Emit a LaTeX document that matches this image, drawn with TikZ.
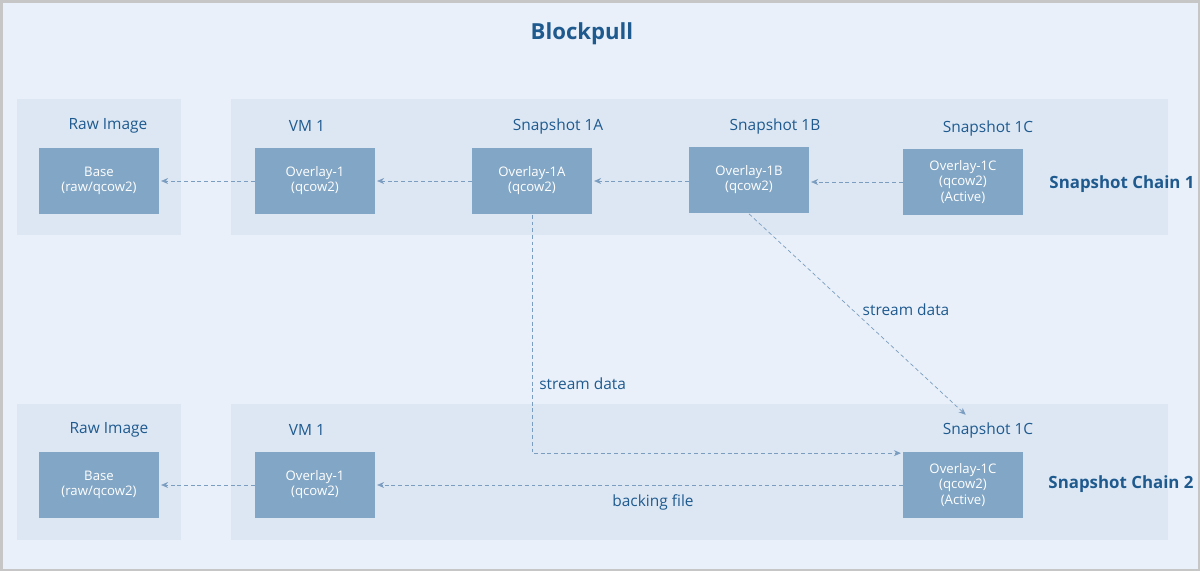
\documentclass[tikz,border=0pt]{standalone}
\usepackage{fontspec}
\setmainfont{Open Sans}
\usetikzlibrary{arrows.meta,calc}

\definecolor{pagebg}{HTML}{E9F0F9}
\definecolor{panelbg}{HTML}{DCE7F3}
\definecolor{boxfill}{HTML}{82A6C5}
\definecolor{titleblue}{HTML}{1F5A8F}
\definecolor{linkblue}{HTML}{7A9DC0}

\tikzset{
  imgbox/.style={fill=boxfill,text=white,minimum width=2.4cm,minimum height=1.34cm,
    align=center,inner sep=0pt,font=\fontsize{7.5}{8.6}\selectfont},
  caption/.style={text=titleblue,font=\fontsize{8.8}{10}\selectfont,inner sep=0pt},
  chainlbl/.style={text=titleblue,font=\bfseries\fontsize{9.6}{11}\selectfont,inner sep=0pt},
  link/.style={linkblue,dash pattern=on 2.2pt off 1.6pt,
    -{Stealth[length=4pt,width=3.4pt]},shorten >=1pt},
}

\begin{document}
\begin{tikzpicture}[x=0.02cm,y=-0.02cm]
%frame and background
\fill[gray!45] (0,0) rectangle (1200,571);
\fill[pagebg] (3,3) rectangle (1198,569);
\useasboundingbox (0,0) rectangle (1200,571);

%panels
\fill[panelbg] (17,99) rectangle (181,235);
\fill[panelbg] (231,99) rectangle (1168,235);
\fill[panelbg] (17,404) rectangle (181,540);
\fill[panelbg] (231,404) rectangle (1168,540);

\node[text=titleblue,font=\bfseries\fontsize{12.6}{14}\selectfont] (title) at (582,34) {Blockpull};

%chain 1
\node[caption] (raw1) at (108,126) {Raw Image};
\node[caption] (vm1) at (307,126) {VM 1};
\node[caption] (snap1a) at (558,126) {Snapshot 1A};
\node[caption] (snap1b) at (775,126) {Snapshot 1B};
\node[caption] (snap1c) at (988,128) {Snapshot 1C};

\node[imgbox] (base1) at (99,181) {Base\\(raw/qcow2)};
\node[imgbox] (ov1) at (315,181) {Overlay-1\\(qcow2)};
\node[imgbox] (ov1a) at (532,181) {Overlay-1A\\(qcow2)};
\node[imgbox] (ov1b) at (749,180) {Overlay-1B\\(qcow2)};
\node[imgbox] (ov1c) at (963,182) {Overlay-1C\\(qcow2)\\(Active)};

\node[chainlbl] (chain1) at (1122,184) {Snapshot Chain 1};

\draw[link] (ov1.west) -- (base1.east);
\draw[link] (ov1a.west) -- (ov1.east);
\draw[link] (ov1b.west |- ov1a.west) -- (ov1a.east);
\draw[link] (ov1c.west) -- (ov1c.west -| ov1b.east);

%chain 2
\node[caption] (raw2) at (109,430) {Raw Image};
\node[caption] (vm2) at (307,430) {VM 1};
\node[caption] (snap2c) at (988,430) {Snapshot 1C};

\node[imgbox] (base2) at (99,485) {Base\\(raw/qcow2)};
\node[imgbox] (ov2) at (315,485) {Overlay-1\\(qcow2)};
\node[imgbox] (ov2c) at (963,485) {Overlay-1C\\(qcow2)\\(Active)};

\node[chainlbl] (chain2) at (1121,484) {Snapshot Chain 2};

\draw[link] (ov2.west) -- (base2.east);
\draw[link] (ov2c.west) -- (ov2c.west -| ov2.east);
\node[caption] (backing) at (653,502) {backing file};

%stream data
\coordinate (sdend) at (967,416);
\draw[link] (ov1a.south) |- ($(ov2c.north west)+(0,2)$);
\draw[link] (ov1b.south) -- (sdend);
\node[caption,anchor=west] (stream1) at (539,384) {stream data};
\node[caption] (stream2) at (906,310) {stream data};
\end{tikzpicture}
\end{document}
